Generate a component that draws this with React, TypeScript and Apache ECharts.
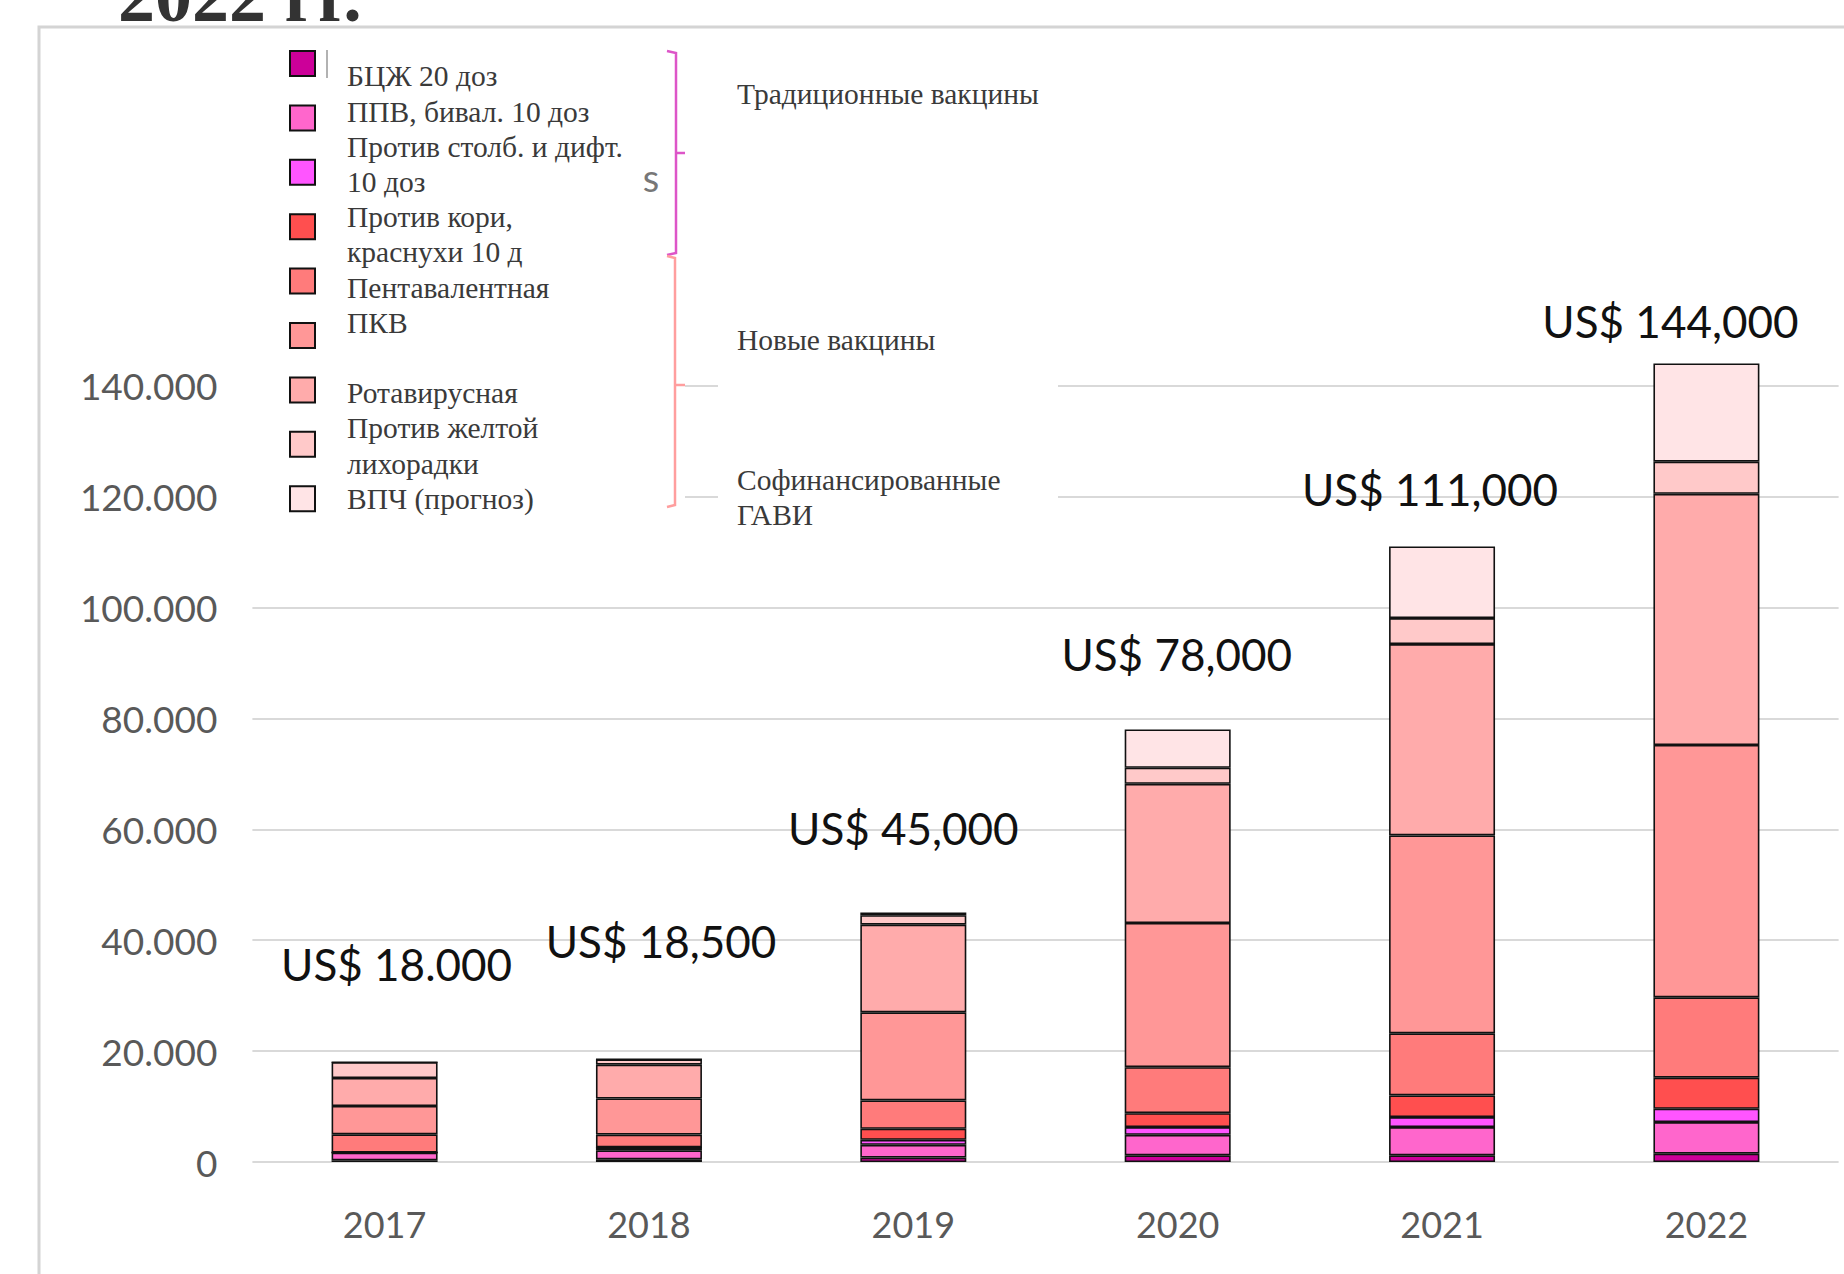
import React, { useEffect, useRef } from "react";
import * as echarts from "echarts";

// ---------- DATA ----------
const years = ["2017", "2018", "2019", "2020", "2021", "2022"];

const seriesNames = [
  "БЦЖ 20 доз",
  "ППВ, бивал. 10 доз",
  "Против столб. и дифт. 10 доз",
  "Против кори, краснухи 10 д",
  "Пентавалентная",
  "ПКВ",
  "Ротавирусная",
  "Против желтой лихорадки",
  "ВПЧ (прогноз)",
];

const bcg = [300, 500, 800, 1200, 1200, 1500];
const bopv = [1400, 1600, 2300, 3700, 5100, 5700];
const td = [0, 550, 900, 1400, 1800, 2400];
const mr = [0, 0, 2000, 2500, 3900, 5600];
const penta = [3300, 2300, 5100, 8300, 11200, 14500];
const pcv = [5100, 6500, 15900, 26000, 35700, 45500];
const rota = [5050, 6100, 15800, 25100, 34500, 45300];
const yellowFever = [2850, 950, 1700, 2900, 4700, 5800];
const hpv = [0, 0, 500, 6900, 12900, 17700];

const seriesValues = [bcg, bopv, td, mr, penta, pcv, rota, yellowFever, hpv];

const totalLabels = [
  "US$ 18.000",
  "US$ 18,500",
  "US$ 45,000",
  "US$ 78,000",
  "US$ 111,000",
  "US$ 144,000",
];

const yTicks = [0, 20000, 40000, 60000, 80000, 100000, 120000, 140000];

const legendLines = [
  "БЦЖ 20 доз",
  "ППВ, бивал. 10 доз",
  "Против столб. и дифт.",
  "10 доз",
  "Против кори,",
  "краснухи 10 д",
  "Пентавалентная",
  "ПКВ",
  "",
  "Ротавирусная",
  "Против желтой",
  "лихорадки",
  "ВПЧ (прогноз)",
];

const groupLines = ["Традиционные вакцины", "Новые вакцины", "Софинансированные", "ГАВИ"];

const titleText = "2022 гг.";

// ---------- STYLE ----------
const colors = [
  "#CC0099",
  "#FF66CC",
  "#FF55FF",
  "#FF4F4F",
  "#FF7B7B",
  "#FF9797",
  "#FFABAB",
  "#FFC9C9",
  "#FFE4E6",
];
const labelOffsets = [
  [12, -97],
  [12, -118],
  [-10, -84],
  [-1, -75],
  [-12, -58],
  [-36, -43],
];
const groupLineY = [94, 340, 480, 515];

const fmt = (v: number) => {
  if (v === 0) return "0";
  const s = String(Math.round(v));
  return s.replace(/\B(?=(\d{3})+(?!\d))/g, ".");
};

export default function App() {
  const ref = useRef<HTMLDivElement>(null);

  useEffect(() => {
    if (!ref.current) return;
    const chart = echarts.init(ref.current, null, { renderer: "svg" });
    const last = seriesNames.length - 1;

    const series = seriesNames.map((name, i) => ({
      name,
      type: "bar",
      stack: "total",
      barWidth: 106,
      clip: false,
      itemStyle: { color: colors[i], borderColor: "#111", borderWidth: 1.6 },
      emphasis: { disabled: true },
      data: seriesValues[i].map((v, j) =>
        i === last
          ? {
              value: v,
              label: {
                show: true,
                position: ["50%", labelOffsets[j][1]],
                offset: [labelOffsets[j][0], 0],
                align: "center",
                verticalAlign: "middle",
                formatter: totalLabels[j],
                fontFamily: "Lato",
                fontSize: 44,
                color: "#111",
              },
            }
          : v
      ),
    }));

    const serif = "'Liberation Serif', 'Times New Roman', serif";
    const textFont = `29.5px ${serif}`;
    const graphic: any[] = [];
    // frame
    graphic.push({
      type: "polyline",
      z: 20,
      shape: { points: [[39, 1274], [39, 27], [1844, 27]] },
      style: { stroke: "#d4d4d4", lineWidth: 3, fill: null },
    });
    // title (cut at the top edge, as in the source)
    graphic.push({
      type: "text",
      z: 21,
      x: 118,
      y: -4.5,
      style: {
        text: titleText,
        font: `bold 74px ${serif}`,
        fill: "#333",
        align: "left",
        verticalAlign: "middle",
      },
    });
    // white covers
    graphic.push({
      type: "rect",
      z: 10,
      shape: { x: 240, y: 32, width: 445, height: 510 },
      style: { fill: "#fff" },
    });
    graphic.push({
      type: "rect",
      z: 10,
      shape: { x: 718, y: 32, width: 340, height: 508 },
      style: { fill: "#fff" },
    });
    // legend texts
    legendLines.forEach((t, i) => {
      if (!t) return;
      graphic.push({
        type: "text",
        z: 12,
        x: 347,
        y: 76.4 + i * 35.2,
        style: { text: t, font: textFont, fill: "#3a3a3a", align: "left", verticalAlign: "middle" },
      });
    });
    // group texts
    groupLines.forEach((t, i) => {
      graphic.push({
        type: "text",
        z: 12,
        x: 737,
        y: groupLineY[i],
        style: { text: t, font: textFont, fill: "#3a3a3a", align: "left", verticalAlign: "middle" },
      });
    });
    // brackets
    graphic.push({
      type: "polyline",
      z: 12,
      shape: { points: [[667, 51], [676, 53], [676, 253], [667, 255]] },
      style: { stroke: "#DD55C8", lineWidth: 2.5, fill: null },
    });
    graphic.push({
      type: "line",
      z: 12,
      shape: { x1: 676, y1: 153, x2: 685, y2: 153 },
      style: { stroke: "#DD55C8", lineWidth: 2.5 },
    });
    graphic.push({
      type: "polyline",
      z: 12,
      shape: { points: [[667, 256], [675, 258], [675, 505], [667, 507]] },
      style: { stroke: "#FF9E9E", lineWidth: 2.5, fill: null },
    });
    graphic.push({
      type: "line",
      z: 12,
      shape: { x1: 675, y1: 385, x2: 685, y2: 385 },
      style: { stroke: "#FF9E9E", lineWidth: 2.5 },
    });
    // small marks left over in the source
    graphic.push({
      type: "line",
      z: 12,
      shape: { x1: 327, y1: 50, x2: 327, y2: 78 },
      style: { stroke: "#999", lineWidth: 1.5 },
    });
    graphic.push({
      type: "text",
      z: 12,
      x: 651,
      y: 177,
      style: { text: "s", font: "38px Lato", fill: "#777", align: "center", verticalAlign: "middle" },
    });

    chart.setOption({
      animation: false,
      backgroundColor: "#fff",
      grid: { left: 252.4, right: 5.4, top: 385.7, bottom: 112 },
      xAxis: {
        type: "category",
        data: years,
        axisLine: { show: false },
        axisTick: { show: false },
        axisLabel: { margin: 44, fontFamily: "Lato", fontSize: 36, color: "#595959" },
      },
      yAxis: {
        type: "value",
        min: yTicks[0],
        max: yTicks[yTicks.length - 1],
        interval: yTicks[1] - yTicks[0],
        axisLine: { show: false },
        axisTick: { show: false },
        axisLabel: {
          margin: 35,
          fontFamily: "Lato",
          fontSize: 37,
          color: "#595959",
          formatter: (v: number) => fmt(v),
        },
        splitLine: { lineStyle: { color: "#d9d9d9", width: 2 } },
      },
      legend: {
        orient: "vertical",
        left: 284,
        top: 45,
        itemWidth: 25,
        itemHeight: 25,
        itemGap: 27.4,
        icon: "rect",
        z: 15,
        selectedMode: false,
        formatter: () => "",
        textStyle: { fontSize: 10 },
        itemStyle: { borderColor: "#111", borderWidth: 2 },
        data: seriesNames,
      },
      graphic,
      series,
    });

    return () => chart.dispose();
  }, []);

  return (
    <div
      ref={ref}
      style={{ position: "absolute", left: 0, top: 0, width: 1844, height: 1274, background: "#fff" }}
    />
  );
}
